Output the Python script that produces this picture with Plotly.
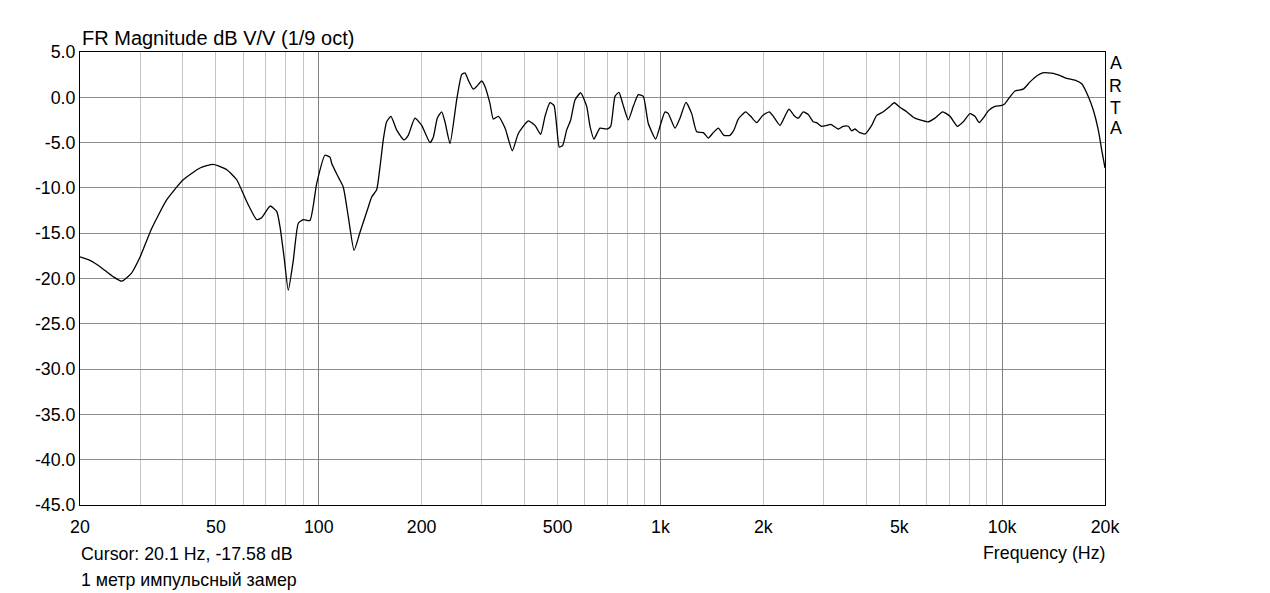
import plotly.graph_objects as go

# Frequency response (Hz, dB)
freq_hz = [20, 21.4, 22.9, 25.0, 26.5, 28.3, 30.0, 32.4, 35.9, 40.1, 44.9, 49.1, 53.8, 57.5, 61.5,
           65.8, 68.0, 72.0, 75.3, 77.0, 79.1, 81.4, 84.2, 87.1, 90.1, 94.2, 98.6, 104.2, 107.8,
           109.1, 114.0, 117.9, 122.0, 126.8, 132.0, 139.6, 142.8, 147.7, 151.0, 154.4, 157.9,
           162.6, 168.9, 177.5, 182.7, 191.1, 200.0, 211.5, 216.3, 222.2, 228.9, 234.0, 242.1,
           253.2, 261.9, 267.8, 273.8, 283.2, 289.8, 299.7, 306.4, 317.0, 324.1, 335.2, 350.8,
           368.5, 383.6, 410.3, 429.3, 446.0, 459.2, 474.9, 487.9, 496.8, 505.6, 517.3, 531.5,
           546.0, 562.1, 584.1, 608.2, 621.9, 638.8, 665.2, 695.9, 715.0, 736.0, 756.1, 775.2,
           805.0, 832.6, 861.1, 890.7, 921.2, 968.2, 996.7, 1030.9, 1054.1, 1102.7, 1140.5,
           1187.6, 1234.1, 1276.4, 1334.5, 1380.2, 1427.5, 1476.5, 1534.2, 1597.4, 1641.1,
           1689.3, 1775.7, 1836.6, 1912.3, 1991.3, 2081.9, 2138.8, 2237.5, 2298.6, 2377.4,
           2458.8, 2531.0, 2617.7, 2707.4, 2800.2, 2865.2, 2963.4, 3065.0, 3148.6, 3314.0,
           3427.8, 3545.3, 3627.4, 3709.1, 3792.4, 3836.1, 3967.6, 4150.8, 4293.1, 4488.3,
           4695.8, 4833.8, 5023.4, 5255.4, 5494.4, 5748.2, 6078.8, 6359.4, 6697.8, 7035.4,
           7389.4, 7694.2, 8049.6, 8325.4, 8570.2, 8804.6, 9106.4, 9527.2, 9967.4, 10192,
           10472, 10904, 11532, 12066, 12620, 13142, 14116, 14768, 15450, 16338, 17094, 17870,
           18484, 19116, 19558, 20000]

magnitude_db = [-17.6, -18.0, -18.7, -19.8, -20.3, -19.4, -17.6, -14.5, -11.3, -9.1, -7.8, -7.4,
                -8.0, -9.1, -11.5, -13.5, -13.3, -12.0, -12.6, -14.3, -17.6, -21.3, -18.0, -13.9,
                -13.5, -13.6, -9.5, -6.4, -6.6,
                -7.3, -8.8, -9.9, -13.2, -16.9, -14.9, -12.1, -11.0, -10.2, -7.7, -4.7, -2.7,
                -2.1, -3.6, -4.7, -4.2, -2.3, -3.1, -5.0, -4.4, -2.3, -1.6, -2.7, -5.1,
                -0.3, 2.5, 2.7, 1.9, 0.9, 1.2, 1.8, 1.2, -0.7, -2.4, -2.1, -3.4,
                -5.9, -4.0, -2.6, -3.1, -4.1, -2.1, -0.6, -0.9, -3.2, -5.5, -5.3, -3.6,
                -2.5, -0.3, 0.5, -1.0, -3.2, -4.6, -3.4, -3.5, -3.2, 0.1, 0.55, -0.7,
                -2.5, -1.0, 0.3, 0.1, -2.9, -4.6, -3.2, -1.6, -1.8, -3.4, -2.3,
                -0.55, -1.8, -3.8, -3.9, -4.5, -3.9, -3.4, -4.2, -4.2, -3.6,
                -2.4, -1.6, -2.1, -2.8, -2.0, -1.6, -2.1, -3.1, -2.3, -1.3,
                -2.0, -2.3, -1.6, -1.9, -2.7, -2.8, -3.2, -3.1, -3.0, -3.5,
                -3.2, -3.2, -3.7, -3.5, -3.8, -3.9, -4.05, -3.1, -2.0, -1.6,
                -1.0, -0.6, -1.1, -1.6, -2.2, -2.5, -2.7, -2.3, -1.6, -2.1,
                -3.2, -2.7, -1.8, -2.1, -2.8, -2.3, -1.5, -1.0, -0.9, -0.7,
                -0.1, 0.7, 0.9, 1.7, 2.35, 2.7, 2.65, 2.4, 2.1, 1.9, 1.5, 0.1,
                -1.4, -3.6, -5.8, -7.8]

# Axis ticks
x_grid_vals = [20, 30, 40, 50, 60, 70, 80, 90, 100, 200, 300, 400, 500, 600, 700, 800, 900,
               1000, 2000, 3000, 4000, 5000, 6000, 7000, 8000, 9000, 10000, 20000]
x_label_map = {20: "20", 50: "50", 100: "100", 200: "200", 500: "500", 1000: "1k",
               2000: "2k", 5000: "5k", 10000: "10k", 20000: "20k"}
x_decades = [100, 1000, 10000]
y_tick_vals = [5, 0, -5, -10, -15, -20, -25, -30, -35, -40, -45]
y_tick_text = ["5.0", "0.0", "-5.0", "-10.0", "-15.0", "-20.0", "-25.0", "-30.0", "-35.0",
               "-40.0", "-45.0"]

FONT = "Liberation Sans, Arial, sans-serif"
FS = 17.8

fig = go.Figure()
fig.add_trace(go.Scatter(x=freq_hz, y=magnitude_db, mode="lines",
                         line=dict(color="black", width=1.3, shape="spline", smoothing=0.5),
                         showlegend=False, hoverinfo="skip"))
# invisible trace to activate the decade-grid axis
fig.add_trace(go.Scatter(x=[20, 20000], y=[None, None], xaxis="x2", mode="lines",
                         showlegend=False, hoverinfo="skip"))

xr = [1.30103, 4.30103]
# page body has an 8px margin, so the figure is sized/offset to compensate
fig.update_layout(
    width=1262, height=585,
    margin=dict(l=72, r=165, t=44, b=88),
    paper_bgcolor="white", plot_bgcolor="white",
    font=dict(family=FONT, size=FS, color="black"),
    xaxis=dict(type="log", range=xr, tickmode="array", tickvals=x_grid_vals,
               ticktext=[x_label_map.get(v, "") for v in x_grid_vals],
               showgrid=True, gridcolor="#c4c4c4", gridwidth=1, ticks="",
               ticklabelstandoff=6, showline=True, linecolor="black", linewidth=1,
               mirror=True, zeroline=False, tickfont=dict(size=FS)),
    xaxis2=dict(type="log", range=xr, overlaying="x", tickmode="array", tickvals=x_decades,
                showticklabels=False, showgrid=True, gridcolor="#808080", gridwidth=1,
                ticks="", zeroline=False, showline=False),
    yaxis=dict(range=[-45, 5], tickmode="array", tickvals=y_tick_vals, ticktext=y_tick_text,
               showgrid=True, gridcolor="#8c8c8c", gridwidth=1, ticks="",
               ticklabelstandoff=0, showline=True, linecolor="black", linewidth=1,
               mirror=True, zeroline=False, tickfont=dict(size=FS)),
)

def ann(text, x, y, xanchor="left", size=FS):
    fig.add_annotation(text=text, x=x, y=y, xref="paper", yref="paper", xanchor=xanchor,
                       yanchor="middle", showarrow=False, font=dict(size=size, family=FONT,
                       color="black"))

ann("FR Magnitude dB V/V (1/9 oct)", 0.0, 1.031, size=20)
ann("Cursor: 20.1 Hz, -17.58 dB", -0.001, -0.108)
ann("1 метр импульсный замер", -0.001, -0.166)
ann("Frequency (Hz)", 1.003, -0.105, xanchor="right")
for ch, yy in zip("ARTA", [0.9757, 0.925, 0.8764, 0.8322]):
    fig.add_annotation(text=ch, x=1.0107, y=yy, xref="paper", yref="paper", xanchor="center",
                       yanchor="middle", showarrow=False,
                       font=dict(size=FS, family=FONT, color="black"))

fig.write_html("out.html")
